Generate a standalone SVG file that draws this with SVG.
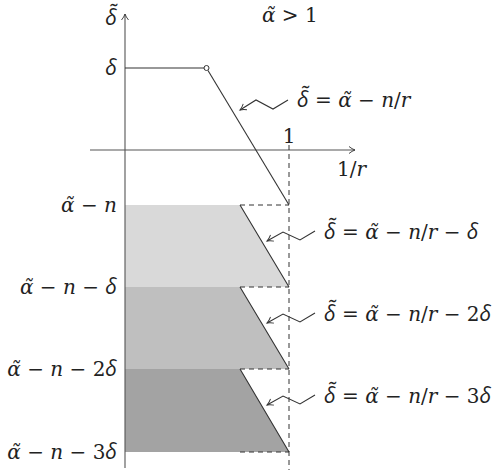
<svg xmlns="http://www.w3.org/2000/svg" width="496" height="470" viewBox="0 0 496 470">
<style>
.t{font-family:"DejaVu Serif",serif;font-size:20px;fill:#222}
.i{font-style:italic}
.d{font-family:"Open Sans","DejaVu Sans",sans-serif;font-style:italic;font-size:21px}
.ln{stroke:#333;stroke-width:1.1;fill:none}
.ax{stroke:#555;stroke-width:1.1;fill:none}
.ds{stroke:#333;stroke-width:1;fill:none;stroke-dasharray:5,4}
</style>
<defs>
<marker id="ah" markerWidth="10" markerHeight="10" refX="8" refY="5" orient="auto" markerUnits="userSpaceOnUse">
<path d="M2,1.5 Q5,4 8,5 Q5,6 2,8.5" fill="none" stroke="#333" stroke-width="0.9"/>
</marker>
</defs>
<rect width="496" height="470" fill="#fff"/>
<g id="bands">
<path d="M125,205 H240 L289,287 H125 Z" fill="#d9d9d9"/>
<path d="M125,287 H240 L289,369 H125 Z" fill="#bfbfbf"/>
<path d="M125,369 H240 L289,452 H125 Z" fill="#a3a3a3"/>
</g>
<g id="connectors">
<line class="ax" x1="125" y1="468" x2="125" y2="14" marker-end="url(#ah)"/>
<line class="ax" x1="90" y1="150" x2="355" y2="150" marker-end="url(#ah)"/>
<line class="ds" x1="289" y1="145" x2="289" y2="470"/>
<line class="ln" x1="125" y1="68" x2="204.5" y2="68"/>
<line class="ln" x1="208" y1="70.5" x2="289" y2="205"/>
<circle cx="206.5" cy="68" r="2.5" fill="#fff" stroke="#333" stroke-width="1"/>
<path class="ln" d="M240,205 L289,287 M240,287 L289,369 M240,369 L289,452"/>
<path class="ds" d="M240,205 H289 M240,287 H289 M240,369 H289 M240,452 H289"/>
<polyline class="ln" points="288,100 273,109 256,100 240,110" stroke-width="0.9" marker-end="url(#ah)"/>
<polyline class="ln" points="315,231 300,240 283,232 267,241" stroke-width="0.9" marker-end="url(#ah)"/>
<polyline class="ln" points="315,313 300,322 283,314 267,323" stroke-width="0.9" marker-end="url(#ah)"/>
<polyline class="ln" points="315,395 300,404 283,396 267,405" stroke-width="0.9" marker-end="url(#ah)"/>
</g>
<g id="labels">
<text class="t" x="111" y="25" text-anchor="middle"><tspan class="d">δ̃</tspan></text>
<text class="t" x="262" y="22"><tspan class="i">α̃</tspan> &gt; 1</text>
<text class="t" x="111" y="75" text-anchor="middle"><tspan class="d">δ</tspan></text>
<text class="t" x="289" y="143" text-anchor="middle">1</text>
<text class="t" x="337" y="176">1/<tspan class="i">r</tspan></text>
<text class="t" x="297" y="107"><tspan class="d">δ̃</tspan> = <tspan class="i">α̃</tspan> − <tspan class="i">n</tspan>/<tspan class="i">r</tspan></text>
<text class="t" x="324" y="239"><tspan class="d">δ̃</tspan> = <tspan class="i">α̃</tspan> − <tspan class="i">n</tspan>/<tspan class="i">r</tspan> − <tspan class="d">δ</tspan></text>
<text class="t" x="324" y="321"><tspan class="d">δ̃</tspan> = <tspan class="i">α̃</tspan> − <tspan class="i">n</tspan>/<tspan class="i">r</tspan> − 2<tspan class="d">δ</tspan></text>
<text class="t" x="324" y="403"><tspan class="d">δ̃</tspan> = <tspan class="i">α̃</tspan> − <tspan class="i">n</tspan>/<tspan class="i">r</tspan> − 3<tspan class="d">δ</tspan></text>
<text class="t" x="117" y="212" text-anchor="end"><tspan class="i">α̃</tspan> − <tspan class="i">n</tspan></text>
<text class="t" x="117" y="294" text-anchor="end"><tspan class="i">α̃</tspan> − <tspan class="i">n</tspan> − <tspan class="d">δ</tspan></text>
<text class="t" x="117" y="376" text-anchor="end"><tspan class="i">α̃</tspan> − <tspan class="i">n</tspan> − 2<tspan class="d">δ</tspan></text>
<text class="t" x="117" y="459" text-anchor="end"><tspan class="i">α̃</tspan> − <tspan class="i">n</tspan> − 3<tspan class="d">δ</tspan></text>
</g>
</svg>
